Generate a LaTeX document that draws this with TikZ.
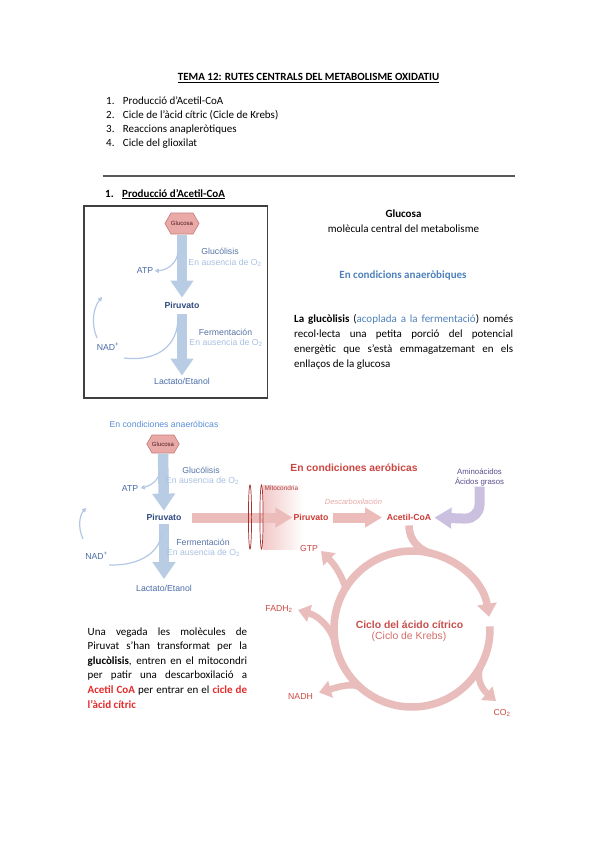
\documentclass[tikz,border=0pt]{standalone}
\usepackage{fontspec}
\setmainfont{Carlito}
\newfontfamily\dfont{Liberation Sans}
\usetikzlibrary{arrows.meta,shapes.symbols}
\definecolor{docblue}{HTML}{4F81BD}
\definecolor{docred}{HTML}{E32B2B}
\definecolor{rulec}{HTML}{595959}
\definecolor{boxc}{HTML}{404040}
\definecolor{barrow}{HTML}{B8CCE4}
\definecolor{navy}{HTML}{2F4A7F}
\definecolor{glucol}{HTML}{5874A6}
\definecolor{lblue}{HTML}{A9C1E2}
\definecolor{atpblue}{HTML}{4A6CA8}
\definecolor{anaer}{HTML}{5A8ED6}
\definecolor{thinblue}{HTML}{B3C8E5}
\definecolor{hexfill}{HTML}{E9A9A7}
\definecolor{hexdraw}{HTML}{C47C7A}
\definecolor{hextext}{HTML}{4D1F1F}
\definecolor{parrow}{HTML}{ECBCBB}
\definecolor{mitopink}{HTML}{F2C8C8}
\definecolor{membr}{HTML}{A8302E}
\definecolor{mitotext}{HTML}{B04040}
\definecolor{aerob}{HTML}{CB4541}
\definecolor{redtext}{HTML}{CC3B35}
\definecolor{descarb}{HTML}{E8A9A8}
\definecolor{purarrow}{HTML}{CBC0DF}
\definecolor{purtext}{HTML}{5E4D8E}
\definecolor{kringc}{HTML}{E8BDBC}
\definecolor{kred}{HTML}{CC4A45}
\definecolor{kbold}{HTML}{C7504C}
\definecolor{klight}{HTML}{D36E6A}
\newcommand\jl[2]{\hbox to #1pt{#2}}
\newcommand\dsz{\fontsize{8.7}{10}\selectfont}
\newcommand\tsz{\fontsize{11}{13.4}\selectfont}
\begin{document}
\begin{tikzpicture}[x=1pt,y=-1pt,
  dtext/.style={font=\tsz, inner sep=0pt, anchor=base west},
  dtextb/.style={font=\tsz\bfseries, inner sep=0pt, anchor=base west},
  dl/.style={font=\dfont\dsz, inner sep=0.5pt},
  dlb/.style={font=\dfont\bfseries\dsz, inner sep=0.5pt},
  hexa/.style={signal, signal to=east and west, signal pointer angle=120,
    fill=hexfill, draw=hexdraw, line width=0.6pt, inner sep=0pt,
    font=\dfont\fontsize{6}{7}\selectfont, text=hextext},
  barr/.style={draw=barrow, line width=10.5pt, -{Triangle[width=22pt,length=17pt]}},
  parr/.style={draw=parrow, line width=10pt, -{Triangle[width=19pt,length=17pt]}},
  purarr/.style={draw=purarrow, line width=10pt, -{Triangle[width=20pt,length=17pt]}},
  thinb/.style={draw=thinblue, line width=1.2pt, -{Triangle[width=4.5pt,length=4pt]}},
  thinbn/.style={draw=thinblue, line width=1.2pt},
  kring/.style={draw=kringc, line width=7.5pt},
  kbr/.style={draw=kringc, line width=6.5pt, -{Triangle[width=17pt,length=12pt]}},
  membrst/.style={draw=membr, line width=0.7pt},
  ulst/.style={line width=0.6pt}
]
\useasboundingbox (0,0) rectangle (599,848);
\fill[white] (0,0) rectangle (599,848);

% ---------- header ----------
\node[dtextb, anchor=base] (title) at (308.5,80.5) {TEMA 12: RUTES CENTRALS DEL METABOLISME OXIDATIU};
\draw[ulst] ([yshift=-1.6pt]title.base west) -- ([yshift=-1.6pt]title.base east);

\node[dtext] (n1) at (106,104.5) {1.};
\node[dtext] (i1) at (122.7,104.5) {Producció d’Acetil-CoA};
\node[dtext] (n2) at (106,118.5) {2.};
\node[dtext] (i2) at (122.7,118.5) {Cicle de l’àcid cítric (Cicle de Krebs)};
\node[dtext] (n3) at (106,132.5) {3.};
\node[dtext] (i3) at (122.7,132.5) {Reaccions anapleròtiques};
\node[dtext] (n4) at (106,146.5) {4.};
\node[dtext] (i4) at (122.7,146.5) {Cicle del glioxilat};

\draw[draw=rulec, line width=1.3pt] (102.7,176) -- (515,176);

\node[dtextb] (s1n) at (105,197) {1.};
\node[dtextb] (s1) at (122,197) {Producció d’Acetil-CoA};
\draw[ulst] ([yshift=-1.6pt]s1.base west) -- ([yshift=-1.6pt]s1.base east);

% ---------- right text ----------
\node[dtextb, anchor=base] (gtitle) at (403.5,217.5) {Glucosa};
\node[dtext, anchor=base] (gsub) at (403.5,232) {molècula central del metabolisme};
\node[dtextb, anchor=base, text=docblue] (anaerh) at (403,278) {En condicions anaeròbiques};

\node[dtext] (r1) at (294,322) {\jl{219}{\textbf{La glucòlisis} (\textcolor{docblue}{acoplada a la fermentació}) només}};
\node[dtext] (r2) at (294,337.2) {\jl{219}{recol·lecta una petita porció del potencial}};
\node[dtext] (r3) at (294,352.4) {\jl{219}{energètic que s’està emmagatzemant en els}};
\node[dtext] (r4) at (294,367.6) {enllaços de la glucosa};

% ---------- box 1 ----------
\draw[draw=boxc, line width=1.3pt] (84,206) rectangle (267.5,398);
\node[hexa, minimum width=32pt, minimum height=21pt] (g1) at (182,223.5) {Glucosa};
\node[dlb, text=navy] (p1) at (182,305) {Piruvato};
\node[dl, text=atpblue] (l1) at (182,381) {Lactato/Etanol};
\draw[barr, shorten <=0.5pt, shorten >=3.5pt] (g1.south) -- (p1.north);
\draw[barr, shorten <=5.5pt, shorten >=1.5pt] (p1.south) -- (l1.north);
\node[dl, text=glucol] (gl1) at (220,251.5) {Glucólisis};
\node[dl, text=lblue] (ea1) at (225,263) {En ausencia de O\textsubscript{2}};
\node[dl, text=atpblue] (atp1) at (145,271) {ATP};
\node[dl, text=glucol] (fe1) at (225.5,332) {Fermentación};
\node[dl, text=lblue] (ea1b) at (226,343) {En ausencia de O\textsubscript{2}};
\node[dl, text=atpblue] (nad1) at (108,347) {NAD\textsuperscript{+}};
\coordinate (c1a) at (178,252);
\coordinate (c1b) at (178,318);
\coordinate (c1c) at (124,358);
\coordinate (c1d) at (97,338);
\coordinate (c1e) at (102,297);
\draw[thinb, shorten >=1pt] (c1a) .. controls (177,263) and (168,270) .. (atp1.east);
\draw[thinbn] (c1b) .. controls (178,345) and (158,362) .. (c1c);
\draw[thinb] (c1d) .. controls (91,324) and (93,308) .. (c1e);

% ---------- diagram 2 ----------
\node[dl, text=anaer] (anaer2) at (164,424) {En condiciones anaeróbicas};
\node[hexa, minimum width=29pt, minimum height=18pt] (g2) at (163,444) {Glucosa};
\node[dlb, text=navy] (p2) at (164,517.5) {Piruvato};
\node[dl, text=atpblue] (l2) at (164,588) {Lactato/Etanol};
\draw[barr, shorten <=0.5pt, shorten >=3pt] (g2.south) -- (p2.north);
\draw[barr, shorten <=3pt, shorten >=5pt] (p2.south) -- (l2.north);
\node[dl, text=glucol] (gl2) at (201,470) {Glucólisis};
\node[dl, text=lblue] (ea2) at (202.5,480.5) {En ausencia de O\textsubscript{2}};
\node[dl, text=atpblue] (atp2) at (130,488.5) {ATP};
\node[dl, text=glucol] (fe2) at (203,542.5) {Fermentación};
\node[dl, text=lblue] (ea2b) at (203.5,552.5) {En ausencia de O\textsubscript{2}};
\node[dl, text=atpblue] (nad2) at (96.5,556) {NAD\textsuperscript{+}};
\coordinate (c2a) at (160,472);
\coordinate (c2b) at (162,531);
\coordinate (c2c) at (109,565);
\coordinate (c2d) at (83,539);
\coordinate (c2e) at (86,508);
\draw[thinb, shorten >=2pt] (c2a) .. controls (158,481) and (150,486) .. (atp2.east);
\draw[thinbn] (c2b) .. controls (161,552) and (140,566) .. (c2c);
\draw[thinb] (c2d) .. controls (78,528) and (79,516) .. (c2e);

% ---------- aerobic ----------
\shade[left color=mitopink, right color=white] (263,485) rectangle (303,549);
\node[dlb, text=redtext] (rp) at (311,517.5) {Piruvato};
\node[dlb, text=redtext] (ac) at (409,517.5) {Acetil-CoA};
\draw[parr, shorten <=10pt, shorten >=0.5pt] (p2.east) -- (rp.west);
\draw[parr, shorten <=3.5pt, shorten >=4pt] (rp.east) -- (ac.west);
\draw[membrst] (250,517) ellipse [x radius=1.6, y radius=32];
\draw[membrst] (261.5,517) ellipse [x radius=1.6, y radius=32];
\node[font=\dfont\fontsize{6.5}{7}\selectfont, text=mitotext, inner sep=0pt, anchor=west] (mito) at (264.5,488) {Mitocondria};
\node[font=\dfont\bfseries\fontsize{10.3}{12}\selectfont, text=aerob, inner sep=0pt] (aer) at (354,467.5) {En condiciones aeróbicas};
\node[font=\dfont\itshape\fontsize{7.5}{9}\selectfont, text=descarb, inner sep=0pt] (desc) at (353.5,501.5) {Descarboxilación};
\node[font=\dfont\fontsize{7.8}{9}\selectfont, text=purtext, inner sep=0.5pt] (ami) at (479.5,472) {Aminoácidos};
\node[font=\dfont\fontsize{7.8}{9}\selectfont, text=purtext, inner sep=0.5pt] (acg) at (479.5,481.7) {Ácidos grasos};
\draw[purarr, shorten >=2.5pt] (acg.south) -- ++(0,18) arc[start angle=0, end angle=90, radius=14] -- (ac.east);

% ---------- Krebs ----------
\coordinate (kc) at (412,629);
\coordinate (kin) at (432,553.6);
\draw[kring, -{Triangle[width=19pt,length=13pt]}] ([shift={(-2:78)}]kc) arc[start angle=-2, end angle=351, radius=78];
\draw[kring, shorten <=4pt] (ac.south) .. controls +(0,20) and +(-11.6,-3.1) .. (kin);

\node[dl, text=kred] (gtp) at (309,548) {GTP};
\node[dl, text=kred] (fadh) at (279,609) {FADH\textsubscript{2}};
\node[dl, text=kred] (nadh) at (300.5,696) {NADH};
\node[dl, text=kred] (co2) at (502,713) {CO\textsubscript{2}};
\coordinate (gtpS) at (346,590);  \coordinate (gtpT) at (321,551);
\coordinate (fadS) at (335,645);  \coordinate (fadT) at (298,610);
\coordinate (nadS) at (362,689);  \coordinate (nadT) at (319,692.5);
\coordinate (co2S) at (480,668);  \coordinate (co2T) at (496,701);
\draw[kbr] (gtpS) .. controls (343,578) and (336,566) .. (gtpT);
\draw[kbr] (fadS) .. controls (334,633) and (322,617) .. (fadT);
\draw[kbr] (nadS) .. controls (354,681) and (335,688) .. (nadT);
\draw[kbr] (co2S) .. controls (476,680) and (483,690) .. (co2T);

\node[font=\dfont\bfseries\fontsize{10.4}{12}\selectfont, text=kbold, inner sep=0pt] (kt1) at (409.5,624.3) {Ciclo del ácido cítrico};
\node[font=\dfont\fontsize{10.4}{12}\selectfont, text=klight, inner sep=0pt] (kt2) at (409,636.7) {(Ciclo de Krebs)};

% ---------- bottom-left text ----------
\node[dtext] (b1) at (87.5,635) {\jl{159.5}{Una vegada les molècules de}};
\node[dtext] (b2) at (87.5,649.6) {\jl{159.5}{Piruvat s’han transformat per la}};
\node[dtext] (b3) at (87.5,664.2) {\jl{159.5}{\textbf{glucòlisis}, entren en el mitocondri}};
\node[dtext] (b4) at (87.5,678.8) {\jl{159.5}{per patir una descarboxilació a}};
\node[dtext] (b5) at (87.5,693.4) {\jl{159.5}{\textcolor{docred}{\textbf{Acetil CoA}} per entrar en el \textcolor{docred}{\textbf{cicle de}}}};
\node[dtext] (b6) at (87.5,708) {\textcolor{docred}{\textbf{l’àcid cítric}}};
\end{tikzpicture}
\end{document}
